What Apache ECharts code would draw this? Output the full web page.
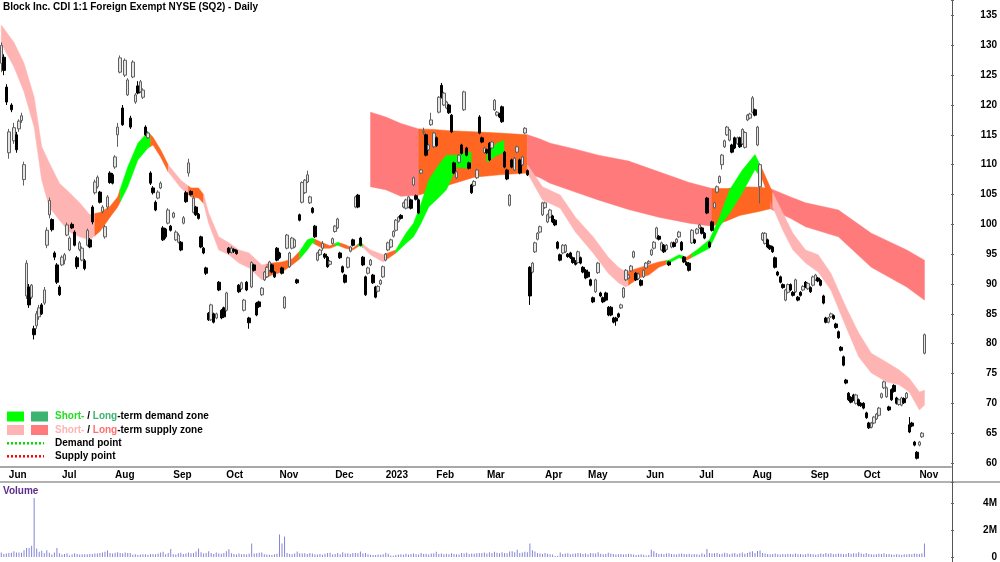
<!DOCTYPE html>
<html>
<head>
<meta charset="utf-8">
<title>Block Inc. CDI 1:1 Foreign Exempt NYSE (SQ2) - Daily</title>
<script src="https://cdn.jsdelivr.net/npm/echarts@6.0.0/dist/echarts.min.js"></script>
<style>
  html, body { margin: 0; padding: 0; background: #fff; }
  #chart { width: 1000px; height: 562px; }
</style>
</head>
<body>
<div id="chart"></div>
<script>
const FONT = "'Liberation Sans', Arial, sans-serif";

// ASX trading days per month shown on the axis (first entry: end of May 2022, last: Nov 2023 incl. empty room)
const monthNames = ['May', 'Jun', 'Jul', 'Aug', 'Sep', 'Oct', 'Nov', 'Dec', '2023', 'Feb', 'Mar', 'Apr', 'May', 'Jun', 'Jul', 'Aug', 'Sep', 'Oct', 'Nov'];
const monthDays = [3, 21, 21, 23, 21, 21, 22, 20, 20, 20, 23, 17, 23, 21, 21, 23, 21, 22, 13];

// daily candles: [open, close, low, high]
const candles = [
  [127,130,125.5,130.5],[128,125.8,125,128.5],[123,120.5,120,123.5],[112,115.5,111,116],[120,119.2,118.8,120.3],
  [114,116.2,113.5,117],[115,112.5,112,115.5],[116,117.3,115.5,117.6],[117.4,118.2,117,118.7],[107.5,110,106.5,110.5],
  [88,93.5,87.5,94],[89.5,86.5,86,90],[87.8,89.8,87.5,90],[82.5,81.5,80.7,83],[83,85,82.5,85.5],
  [84.5,86,84,86.5],[86.5,85,84.8,86.8],[86.8,89,86.5,89.5],[96.5,99,96,99.5],[101.6,104,101,104.5],
  [100.8,99.1,98.8,101],[95.2,94.5,94,95.5],[93.2,90.3,90,93.5],[89.5,88.2,88,89.8],[93.2,94.5,93,94.8],
  [94,94.9,93.3,95.2],[98.2,99.9,98,100.3],[95.7,97.7,95.5,98],[100,99.4,99.2,100.3],[98.7,96.5,96.3,99],
  [94.4,92.9,92.5,94.7],[95.8,96.9,95.5,97.2],[94,96,93.8,96.3],[93.9,92.6,92.3,94.2],[96.5,99,96.3,99.3],
  [97.4,96.2,96,97.7],[102.9,100.4,100,103.2],[105.3,107.1,105,107.5],[106.3,107.9,106,108.2],[105.4,103.7,103.5,105.6],
  [102.1,102.9,101.8,103.2],[97.9,99.6,97.6,99.9],[102.9,104.6,102.5,104.9],[108.6,107,106.8,108.9],[108.3,106.9,106.7,108.6],
  [109.6,111.3,109.3,111.6],[115,116.3,113,117],[125.5,127.9,125.3,128.3],[119.5,116.7,116.5,120],[125,127.5,124.7,127.8],
  [121.7,124.2,121.5,124.5],[117.8,116.3,116,118.2],[124.7,127.2,124.5,127.5],[120.5,121.7,120.2,122],[123.2,122,121.8,124],
  [122.2,123.9,122,124.2],[121.3,122.5,121,122.8],[116.3,115,114.8,116.6],[114.5,115.3,114.3,115.6],[108.6,106.9,106.6,108.9],
  [106.1,105.3,105,106.4],[103.7,102.4,102.2,104],[104.4,105.4,104.2,105.7],[106.1,106.9,105.9,107.2],[99.4,97.4,97.2,99.7],
  [99.2,97.9,97.6,99.4],[100.2,102.4,100,102.7],[99.7,99,98.8,99.9],[101.2,101.9,101,102.1],[97.4,98.7,97.2,99],
  [97,98.2,96.8,98.5],[97,95.7,95.5,97.2],[100.2,101.1,100,101.4],[105.3,103.8,103.6,105.6],[108.6,110.3,108,111],
  [105.5,105,104.8,105.7],[102,104.4,101.8,104.7],[102.9,101.6,101.4,103.1],[101.7,101,100.8,101.9],[97.9,96.2,96,98.1],
  [96,95.2,95,96.2],[92.7,91.8,91.5,92.9],[85.1,84,83.8,85.3],[84,86.5,83.8,86.7],[85,83.6,83.4,85.2],
  [84.3,85,84.1,85.2],[90.3,89,88.8,90.5],[85.6,84.3,84.1,85.8],[86,84.5,84.3,86.2],[85.6,88.5,85.4,88.7],
  [96,95.3,95,96.2],[95.3,96,95.1,96.3],[95.8,95.5,95.2,96],[95.6,95.1,94.9,95.8],[89.8,88.7,88.5,90],
  [89.2,90.2,89,90.4],[85.6,87.3,85.4,87.5],[90.3,89,88.8,90.5],[84.3,83.5,82.5,84.5],[89.5,93.6,89.3,93.8],
  [93.2,92.3,92.1,93.4],[86.8,84.8,84.6,87],[87,86.2,86,87.2],[88.2,89.3,88,89.5],[90.7,92,90.5,92.2],
  [91.2,92.8,91,93],[92.3,93.7,92.1,93.9],[93.2,92,91.8,93.4],[92,91.2,91,92.2],[96,94,93.8,96.2],
  [95.2,94.4,94.2,95.4],[92.7,91.8,91.6,92.9],[86,87.8,85.8,88],[96,98.2,95.8,98.4],[92.9,95.2,92.7,95.4],
  [96,97.7,95.8,97.9],[96.2,97.4,96,97.6],[90.7,90.2,90,90.9],[101.6,100.7,100.5,101.8],[103.7,107,103.5,107.2],
  [105.3,107.4,105.1,107.6],[107.1,108.3,106.9,109],[103.6,104.6,103.4,104.8],[102.7,102,101.8,102.9],[99.7,97.9,97.7,99.9],
  [94,95.2,93.8,95.4],[94.9,95.7,94.7,95.9],[96,96.8,95.6,97.2],[95,94.5,94.2,95.2],[94.5,92.9,92.7,94.7],
  [93.3,93.8,93.1,94],[96.8,97.6,96.6,97.8],[98.8,99.7,98.6,99.9],[99.4,100.9,99.2,101.1],[95.2,94.4,94.2,95.4],
  [92.9,92,91.8,93.1],[91.5,90.3,90.1,91.7],[92.8,94.4,92.6,94.6],[95.5,96.2,95.3,96.4],[97.4,96.5,96.3,97.6],
  [102.9,104.6,102.7,104.8],[104.9,102.9,102.7,105.1],[97.7,96.5,96.3,97.9],[94.5,93.2,93,94.7],[91.2,88.2,88,91.4],
  [91.8,92.7,91.6,92.9],[93.2,94,93,94.2],[91.5,90.2,90,91.7],[89.5,87.8,87.6,89.7],[88.8,89.6,88.6,89.8],
  [90,90.6,89.8,90.8],[91.2,92.9,91,93.1],[94,95,93.8,95.2],[95.7,96.9,95.5,97.1],[96.2,97.4,96,97.6],
  [98,98.8,97.8,99],[99,100.7,98.8,100.9],[100.5,101.2,100.3,101.4],[101.5,101,100.8,101.7],[102.9,103.6,102.7,103.8],
  [102.7,104.1,102.5,104.3],[102.9,104.6,102.7,104.8],[104.1,102.7,102.5,104.3],[106.6,107.8,106.4,108],[104.8,104.2,104,105],
  [104.1,101.9,101.7,104.3],[108.6,109.1,108.4,109.3],[115.4,115.6,115,116.2],[115,111.6,111.4,115.2],[112.5,113.3,112.3,113.5],
  [116.7,117.5,116.5,118.7],[113,115.3,112.8,115.5],[114.5,113.2,113,114.7],[118.8,121.3,118.6,121.5],[123.3,121.3,121.1,123.7],
  [120,122,119.8,122.2],[119.5,120.5,119.3,120.7],[120,118.7,118.5,120.2],[118.3,115.5,115.3,118.5],[110.3,108.6,108.4,110.5],
  [107.8,108.8,107.6,109],[110.4,111.6,110.2,111.8],[113.3,111.9,111.7,113.5],[119.2,122.2,119,122.4],[112.8,111.6,111.4,113],
  [110.3,109.4,109.2,110.5],[106.6,105.3,105.1,106.8],[106.5,107.2,106.3,107.4],[107.8,109.1,107.6,109.3],[118,115.3,115.1,118.3],
  [114.5,113.8,113.6,114.7],[112,112.8,111.8,113],[112.5,112,111.8,112.7],[113.6,110.8,110.6,113.8],[112.8,113.8,112.6,114],
  [119.2,120.8,119,121],[118.3,118.8,118.1,119],[118.5,118,117.8,118.7],[119.7,117.2,117,119.9],[112.1,109.6,109.4,112.3],
  [109.1,107.6,107.4,109.3],[103.2,104.9,103,105.1],[110.8,109.6,109.4,111],[109.1,111.1,108.9,111.3],[112.1,113,111.9,113.2],
  [110.8,108.6,108.4,111],[110,111.3,109.8,111.5],[115.3,116.1,115.1,116.3],[109,108.3,108.1,109.2],[92.8,88,86.5,93],
  [92,93.5,91.8,93.7],[95.4,96.9,95.2,97.1],[97.5,98.5,97.3,98.7],[98.7,99.6,98.5,99.8],[101.6,103.6,101.4,103.8],
  [102.8,103.6,102.6,103.8],[100.4,101.6,100.2,101.8],[101.2,102.4,101,102.6],[101.4,100.4,100.2,101.6],[100.7,99.9,99.7,100.9],
  [97,96,95.8,97.2],[94.9,94,93.8,95.1],[95.2,96.5,95,96.7],[95.4,96.5,95.2,96.7],[95,94.6,94.4,95.2],
  [95.2,94.4,94.2,95.4],[94.4,93.6,93.4,94.6],[93.8,93.3,93.1,94],[93.6,95.4,93.4,95.6],[94.4,93.5,93.3,94.6],
  [92.8,92,91.8,93],[92.3,91,90.8,92.5],[92,91.2,91,92.4],[90.7,89.8,89.6,90.9],[87.7,87,86.8,87.9],
  [88.7,90.7,88.5,90.9],[91.9,93.5,91.7,93.7],[88.5,88,87.8,88.7],[87.7,87,86.8,87.9],[88.5,87.3,87.1,88.7],
  [86.1,84.8,84.6,86.3],[86.1,84.8,84.6,86.3],[84.3,83.6,83.4,84.5],[84.3,83.8,83,84.5],[85,84.5,84.3,85.2],
  [86,86.5,85.8,86.7],[87.8,89.3,87.6,89.5],[90.7,92.3,90.5,92.5],[91,91.5,90.8,91.7],[92.2,93,92,93.2],
  [94.5,95.4,94.3,95.6],[91.8,90.7,90.5,92],[90.9,91.7,90.7,91.9],[90.6,89.8,89.6,90.8],[91.2,92.3,91,92.5],
  [92.7,93.5,92.5,93.7],[93.5,93.8,93.3,94],[94.9,95.7,94.7,95.9],[96,97,95.8,97.2],[97.7,99.4,97.5,99.6],
  [98,97.5,97.3,98.2],[95.7,96.9,95.5,97.1],[96.5,95.4,95.2,96.7],[95.8,96.5,95.6,96.7],[93.7,93.2,93,93.9],
  [96.2,96.9,96,97.1],[96.9,96.3,96.1,97.1],[97,97.5,96.8,97.7],[97.9,98.7,97.7,98.9],[97,95.7,95.5,97.2],
  [94.5,93.7,93.5,94.7],[93.6,93.2,93,93.8],[93.5,92.3,92.1,93.7],[96.9,99,96.7,99.2],[97.4,96.9,96.7,97.6],
  [98.5,99.2,98.3,99.4],[99.4,99.9,99.2,100.1],[99.4,98.5,98.3,99.6],[98.5,97.7,97.5,98.7],[104.4,101.9,101.7,104.6],
  [97,96.2,96,97.2],[100.4,99,98.8,100.6],[102.8,103.6,102.6,103.8],[105.4,106.3,105.2,106.5],[107,108,106.8,108.2],
  [110,111.6,109.2,111.8],[113,114,112.8,114.2],[115,116.3,114.8,116.5],[114.1,115.8,113.9,116],[113.3,112.1,111.9,113.5],
  [114.5,112.8,112.6,114.7],[113.5,114.5,113.3,114.7],[114.5,113,112.8,114.7],[113.5,115.9,113.3,116.1],[112.9,115.4,112.7,115.6],
  [117.5,118.3,117.3,118.5],[117.8,118.5,117.6,118.7],[118.8,121.2,118.6,121.5],[119.2,118.3,118.1,119.4],[113.3,116.3,113.1,116.5],
  [106.3,110,103.5,110.2],[97.4,98.5,97.2,98.7],[96.8,98.5,96.6,98.7],[97.4,96.2,96,97.6],[96.4,95.9,95.7,96.6],
  [96.2,95.4,95.2,96.4],[94.4,92.8,92.6,94.6],[92,91.5,91.3,92.2],[91.2,90.3,90.1,91.4],[89.9,89.4,89.2,90.1],
  [87.3,89,87.1,89.2],[88.6,89.9,88.4,90.1],[89.9,89,88.8,90.1],[88.6,88.1,87.9,88.8],[88.7,90.7,88.5,90.9],
  [87.8,87.3,87.1,88],[88.6,88.1,87.9,88.8],[89,89.6,88.8,89.8],[90.3,89.5,89.3,90.5],[89.2,90.1,89,90.3],
  [89.4,88.7,88.5,89.6],[89.8,91.2,89.6,91.4],[90.7,91.5,90.5,91.7],[91,90.5,90.3,91.2],[90.6,89.8,89.6,90.8],
  [88,86.8,86.6,88.2],[84.3,83.6,83.4,84.5],[83.6,84.3,83.4,84.5],[84.5,85,84.3,85.2],[84.7,84.2,84,84.9],
  [83.3,82.7,82.5,83.5],[82,81,80.8,82.2],[79.4,78.9,78.7,79.6],[77.8,76.4,76.2,78],[73.9,73.4,73.2,74.1],
  [71.7,70.6,70.4,71.9],[71,70.2,70,71.2],[71.4,70.6,70.4,71.6],[70,71.4,69.8,71.6],[70.6,69.7,69.5,70.8],
  [70,69.6,69.4,70.2],[70,69.2,69,70.2],[68.4,67.6,67.4,68.6],[66.7,65.9,65.7,66.9],[66,66.7,65.8,66.9],
  [66.7,67.7,66.5,67.9],[67.4,68.2,67.2,68.4],[68,69.2,67.8,69.4],[71,71.6,70.8,71.8],[72.6,73.6,72.4,73.8],
  [71.1,72.6,70.9,72.8],[69.4,68.9,68.7,69.6],[72.3,70.6,70.4,72.5],[73,72,71.8,73.2],[70.9,70,69.8,71.1],
  [69.8,70.6,69.6,70.8],[69.7,70.9,69.5,71.1],[70.8,70.1,69.9,71],[70.9,71.7,70.7,71.9],[66.4,65.2,65,67.7],
  [66.7,66.2,66,66.9],[63.5,63,62.8,63.7],[61.8,60.8,60.6,62],[63,63.5,62.8,63.7],[64.4,65,64.2,65.2],
  [78.4,81.5,78.2,81.7]
];

// daily volume, millions
const volumes = [
  0.34,0.22,0.25,0.29,0.31,0.43,0.34,0.34,0.31,0.5,
  0.67,0.67,0.84,4.36,0.63,0.39,0.46,0.27,0.5,0.31,
  0.19,0.34,0.67,0.27,0.19,0.22,0.27,0.12,0.19,0.27,
  0.22,0.18,0.2,0.21,0.2,0.23,0.22,0.26,0.25,0.3,
  0.33,0.38,0.48,0.3,0.26,0.31,0.35,0.3,0.28,0.33,
  0.29,0.3,0.16,0.2,0.15,0.18,0.21,0.2,0.17,0.23,
  0.22,0.2,0.25,0.34,0.39,0.21,0.3,0.6,0.2,0.18,
  0.28,0.32,0.22,0.26,0.34,0.27,0.3,0.41,0.63,0.35,
  0.25,0.3,0.43,0.29,0.22,0.34,0.26,0.24,0.3,0.42,
  0.58,0.28,0.22,0.18,0.25,0.2,0.22,0.19,0.24,1.0,
  0.25,0.28,0.31,0.34,0.2,0.18,0.16,0.15,0.2,0.24,
  1.66,1.0,1.52,0.3,0.22,0.2,0.26,0.41,0.28,0.25,
  0.27,0.22,0.3,0.25,0.2,0.18,0.22,0.17,0.24,0.3,
  0.32,0.18,0.22,0.3,0.21,0.36,0.26,0.28,0.22,0.3,
  0.3,0.28,0.41,0.25,0.3,0.2,0.16,0.14,0.15,0.19,
  0.16,0.2,0.31,0.24,0.12,0.1,0.15,0.18,0.2,0.16,
  0.24,0.19,0.22,0.26,0.2,0.18,0.3,0.22,0.24,0.18,
  0.26,0.28,0.39,0.22,0.25,0.2,0.24,0.2,0.28,0.23,
  0.2,0.18,0.3,0.26,0.32,0.22,0.25,0.24,0.28,0.3,
  0.3,0.33,0.25,0.36,0.3,0.38,0.32,0.28,0.36,0.3,
  0.27,0.4,0.42,0.35,0.53,0.3,0.33,0.38,0.35,1.0,
  0.5,0.4,0.3,0.26,0.22,0.29,0.24,0.2,0.18,0.08,
  0.1,0.33,0.22,0.25,0.28,0.2,0.24,0.26,0.3,0.27,
  0.22,0.26,0.2,0.3,0.27,0.25,0.36,0.24,0.2,0.22,
  0.31,0.25,0.22,0.18,0.2,0.22,0.18,0.2,0.24,0.22,
  0.18,0.15,0.16,0.2,0.17,0.12,0.14,0.53,0.43,0.29,
  0.22,0.24,0.2,0.26,0.28,0.22,0.2,0.18,0.24,0.26,
  0.22,0.2,0.24,0.18,0.22,0.2,0.16,0.28,0.2,0.6,
  0.3,0.25,0.28,0.3,0.22,0.24,0.32,0.28,0.2,0.26,
  0.3,0.2,0.28,0.34,0.24,0.3,0.38,0.42,0.3,0.45,
  0.48,0.3,0.25,0.22,0.2,0.22,0.25,0.2,0.18,0.22,
  0.2,0.24,0.22,0.2,0.26,0.2,0.22,0.18,0.2,0.25,
  0.22,0.2,0.17,0.2,0.26,0.22,0.3,0.24,0.28,0.2,
  0.22,0.26,0.24,0.2,0.22,0.3,0.24,0.28,0.26,0.35,
  0.26,0.22,0.3,0.22,0.2,0.18,0.2,0.24,0.22,0.28,
  0.2,0.22,0.18,0.16,0.2,0.18,0.15,0.2,0.18,0.22,
  0.2,0.26,0.24,0.22,0.28,1.0
];

// short-term band (read at sample days)
const shortIdx = [0,5,9,13,16,19,23,27,31,35,39,43,46,50,54,58,60,63,66,71,75,78,80,82,86,90,94,98,103,107,111,115,118,121,123,127,130,133,136,139,142,146,151,156,160,163,166,169,173,176,180,184,188,192,196,199,203,208,214,221,227,234,240,244,247,252,256,260,264,268,271,275,280,284,288,293,298,301,305,309,313,318,323,328,334,339,344,350,355,359,363,365];
const shortTop = [133.4,130.5,127,121.3,113,110.3,106.9,105.3,103.6,101.6,102,103,104.6,109.6,113.6,115.5,114.6,112.5,110,107.4,106.1,106.1,105,101.9,97.9,96.9,95.7,95.2,93.2,93.5,93.7,94.2,95.5,97.4,97.7,96.9,96.4,97,96.6,96,97,95.7,94.9,95.7,98.5,100.2,103.5,107.4,110,111.6,111.6,112.1,112,111.9,113.6,114.1,112.5,110,106.3,104.9,101.2,97.9,94.5,92.8,92,92.7,93.2,93.7,94,94.9,94.5,95.7,97.4,101.2,105.8,109.1,111.7,109.1,105.3,101.9,98.5,95.7,94.9,91.8,86.1,81.8,78.4,76.9,75.6,74.2,71.9,72.2];
const shortBot = [130.3,126.4,122.2,116.3,107.4,102.9,100.7,98.7,97.9,97.4,98.8,101.2,102.9,106.3,110.8,112.8,113.3,111.3,108.8,106.1,104.6,104.4,103.5,100.2,95.7,94.9,93.5,92.7,90.7,91.5,92,93.2,94.2,95.7,96.9,96,96,96.5,96,95.7,96.5,94.9,93.7,95.2,96.8,97.9,100.2,102.9,104.5,105.8,109.6,109.4,110.2,110.4,111.6,112.1,110.6,108.6,104.1,102.7,98.7,95.2,91.8,90.2,89.5,91,91.5,92.8,93.5,94.4,94,94.9,96,99.6,101.9,105.3,109.2,107.4,102.9,99,95.7,93.5,92,89,82.8,77.8,75.1,73.6,73.1,71.9,68.9,69.7];
const shortZones = [[0,37,'supply'],[37,47,'mixed'],[47,59,'demand'],[59,66,'mixed'],[66,74,'supply'],[74,80,'mixed'],[80,105,'supply'],[105,118,'mixed'],[118,124,'demand'],[124,132,'mixed'],[132,134,'demand'],[134,141,'mixed'],[141,143,'demand'],[143,152,'supply'],[152,156,'mixed'],[156,186,'demand'],[186,192,'mixed'],[192,199,'demand'],[199,208,'mixed'],[208,248,'supply'],[248,263,'mixed'],[263,270,'demand'],[270,273,'mixed'],[273,300,'demand'],[300,305,'mixed'],[305,365,'supply']];

// long-term band
const longIdx = [146,152,158,165,171,177,187,197,208,213,217,227,236,248,260,272,281,287,292,300,304,312,318,331,344,358,365];
const longTop = [118.8,118,116.9,116,115.9,115.7,115.5,115.3,115,114.3,113.6,112.6,111.6,110.6,108.8,107,106,106,106.3,106.2,106,104.6,103.6,102.4,98.5,95.7,94];
const longBot = [106.3,105.8,104.7,104.9,105.6,106.6,107.9,108.3,108.6,107.8,106.9,105.4,104.1,102.5,101.2,100.2,99.7,100.6,101.5,102.2,102.6,101,99.6,97.9,92.8,89.5,87.3];
const longZones = [[146,165,'supply'],[165,208,'mixed'],[208,281,'supply'],[281,304,'mixed'],[304,365,'supply']];

const shortColors = { supply: '#ffb4b4', demand: '#00ff00', mixed: '#ff6622' };
const longColors = { supply: '#ff7a7a', demand: '#3cb371', mixed: '#ff6622' };

// categories and month starts
const categories = [];
const monthStarts = new Set();
monthNames.forEach((name, m) => {
  for (let d = 0; d < monthDays[m]; d++) {
    if (d === 0 && m > 0) monthStarts.add(categories.length);
    categories.push(name + '|' + m + '|' + d);
  }
});
const isMonthStart = (i) => monthStarts.has(i);

function valueAt(idx, vals, t) {
  if (t <= idx[0]) return vals[0];
  for (let k = 0; k < idx.length - 1; k++) {
    if (t <= idx[k + 1]) {
      const f = (t - idx[k]) / (idx[k + 1] - idx[k]);
      return vals[k] + f * (vals[k + 1] - vals[k]);
    }
  }
  return vals[vals.length - 1];
}

function bandSeries(idx, top, bot, zones, palette, z) {
  return {
    type: 'custom',
    xAxisIndex: 0,
    yAxisIndex: 0,
    z: z,
    silent: true,
    clip: true,
    data: zones.map(zn => [zn[0], zn[1]]),
    renderItem(params, api) {
      const zn = zones[params.dataIndex];
      const a = zn[0], b = zn[1];
      const xs = [a].concat(idx.filter(t => t > a && t < b), [b]);
      const up = xs.map(t => api.coord([t, valueAt(idx, top, t)]));
      const lo = xs.map(t => api.coord([t, valueAt(idx, bot, t)])).reverse();
      return {
        type: 'polygon',
        shape: { points: up.concat(lo) },
        style: { fill: palette[zn[2]], stroke: palette[zn[2]], lineWidth: 0.5 }
      };
    }
  };
}

const labelStyle = { fontFamily: FONT, fontSize: 10, fontWeight: 'bold', color: '#000' };
const txt = (x, y, text, extra) => ({
  type: 'text', x: x, y: y, silent: true,
  style: Object.assign({ text: text, font: 'bold 10px ' + FONT, fill: '#000', verticalAlign: 'middle' }, extra || {})
});

const chart = echarts.init(document.getElementById('chart'), null, { renderer: 'canvas' });

chart.setOption({
  animation: false,
  backgroundColor: '#fff',
  grid: [
    { left: 0, right: 48, top: 0, bottom: 99 },
    { left: 0, right: 48, top: 482, bottom: 3.3 }
  ],
  xAxis: [
    {
      type: 'category', gridIndex: 0, data: categories, boundaryGap: true, offset: 4,
      axisLine: { lineStyle: { color: '#a8a8a8', width: 2 } },
      axisTick: { interval: isMonthStart, length: 4, lineStyle: { color: '#888' } },
      axisLabel: Object.assign({ interval: isMonthStart, formatter: v => v.split('|')[0], align: 'left', margin: 3 }, labelStyle),
      splitLine: { show: false }
    },
    {
      type: 'category', gridIndex: 1, data: categories, boundaryGap: true, show: false
    }
  ],
  yAxis: [
    {
      type: 'value', gridIndex: 0, position: 'right', min: 60, max: 137.6, interval: 5,
      axisLine: { show: false },
      axisTick: { show: true, length: 3, lineStyle: { color: '#666' } },
      axisLabel: Object.assign({ margin: 46, align: 'right', formatter: v => (v % 5 === 0 ? String(v) : '') }, labelStyle),
      splitLine: { show: false }
    },
    {
      type: 'value', gridIndex: 1, position: 'right', min: 0, max: 5.54, interval: 2,
      axisLine: { show: false },
      axisTick: { show: true, length: 3, lineStyle: { color: '#666' } },
      axisLabel: Object.assign({ margin: 46, align: 'right', formatter: v => (v === 0 ? '0' : (v % 2 === 0 ? v + 'M' : '')) }, labelStyle),
      splitLine: { show: false }
    }
  ],
  series: [
    bandSeries(longIdx, longTop, longBot, longZones, longColors, 1),
    bandSeries(shortIdx, shortTop, shortBot, shortZones, shortColors, 2),
    {
      type: 'candlestick', xAxisIndex: 0, yAxisIndex: 0, z: 5,
      data: candles, barWidth: 3,
      itemStyle: { color: '#e4e4e4', color0: '#000', borderColor: '#606060', borderColor0: '#000', borderWidth: 1 }
    },
    {
      type: 'bar', xAxisIndex: 1, yAxisIndex: 1, data: volumes, barWidth: 1,
      itemStyle: { color: '#8585d8' }
    }
  ],
  graphic: [
    txt(3, 7, 'Block Inc. CDI 1:1 Foreign Exempt NYSE (SQ2) - Daily'),
    txt(3, 491, 'Volume', { fill: '#5c2d8c' }),
    { type: 'line', silent: true, shape: { x1: 0, y1: 482, x2: 1000, y2: 482 }, style: { stroke: '#999', lineWidth: 1.5 } },
    { type: 'line', silent: true, shape: { x1: 952.5, y1: 0, x2: 952.5, y2: 562 }, style: { stroke: '#555', lineWidth: 1 } },
    // legend
    { type: 'rect', silent: true, shape: { x: 7, y: 411.5, width: 17, height: 10 }, style: { fill: '#00ff00' } },
    { type: 'rect', silent: true, shape: { x: 31, y: 411.5, width: 17, height: 10 }, style: { fill: '#3cb371' } },
    txt(55, 416.5, '{a|Short-} / {b|Long}-term demand zone', {
      rich: {
        a: { fill: '#22dd22', font: 'bold 10px ' + FONT },
        b: { fill: '#3cb371', font: 'bold 10px ' + FONT }
      }
    }),
    { type: 'rect', silent: true, shape: { x: 7, y: 425, width: 17, height: 10 }, style: { fill: '#ffb4b4' } },
    { type: 'rect', silent: true, shape: { x: 31, y: 425, width: 17, height: 10 }, style: { fill: '#ff7a7a' } },
    txt(55, 430, '{a|Short-} / {b|Long}-term supply zone', {
      rich: {
        a: { fill: '#ffb4b4', font: 'bold 10px ' + FONT },
        b: { fill: '#ff7070', font: 'bold 10px ' + FONT }
      }
    }),
    { type: 'line', silent: true, shape: { x1: 7, y1: 443.3, x2: 44, y2: 443.3 }, style: { stroke: '#00dd00', lineWidth: 2.5, lineDash: [2, 2] } },
    txt(55, 443.3, 'Demand point'),
    { type: 'line', silent: true, shape: { x1: 7, y1: 456.3, x2: 44, y2: 456.3 }, style: { stroke: '#ff0000', lineWidth: 2.5, lineDash: [2, 2] } },
    txt(55, 456.3, 'Supply point')
  ]
});
</script>
</body>
</html>
